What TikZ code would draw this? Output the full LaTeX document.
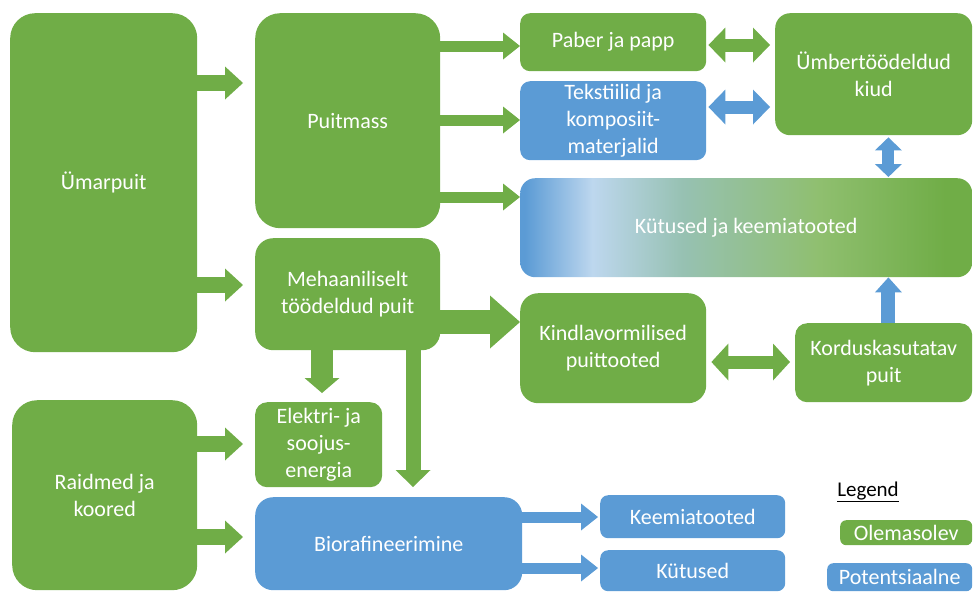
\documentclass[tikz,border=0pt]{standalone}
\usepackage{fontspec}
\setmainfont{Carlito}
\usetikzlibrary{arrows.meta,calc}
\definecolor{puugreen}{HTML}{70AD47}
\definecolor{puublue}{HTML}{5B9BD5}
\pgfdeclarehorizontalshading{kytusvarv}{100bp}{color(0bp)=(puublue); color(25.5bp)=(puublue); color(33bp)=(puublue!40!white); color(43bp)=(puublue!50!puugreen!68!white); color(58bp)=(puugreen!78!white); color(72bp)=(puugreen); color(100bp)=(puugreen)}
\begin{document}
\begin{tikzpicture}[x=1pt,y=-1pt,
  kast/.style={rounded corners=#1, inner sep=0pt, align=center, text=white, anchor=north west, font=\fontsize{22}{27}\selectfont},
  rohe/.style={kast=#1, fill=puugreen},
  sini/.style={kast=#1, fill=puublue},
  nool/.style n args={3}{line width=#1, -{Triangle[width=#2, length=#3, line width=0pt]}},
  kaksnool/.style n args={3}{line width=#1, {Triangle[width=#2, length=#3, line width=0pt]}-{Triangle[width=#2, length=#3, line width=0pt]}}]
\useasboundingbox (0,0) rectangle (973,592);
\node[rohe=25pt, minimum width=187pt, minimum height=339pt] (umar) at (10,13) {Ümarpuit};
\node[rohe=25pt, minimum width=185pt, minimum height=215pt] (puit) at (255,13) {Puitmass};
\node[rohe=18pt, minimum width=185pt, minimum height=112pt] (meh) at (255,238) {Mehaaniliselt\\töödeldud puit};
\node[rohe=10pt, minimum width=186pt, minimum height=58pt] (paber) at (520,13) {Paber ja papp};
\node[sini=10pt, minimum width=186pt, minimum height=79pt] (teks) at (520,81) {Tekstiilid ja\\komposiit-\\materjalid};
\node[rohe=15pt, minimum width=197pt, minimum height=122pt] (umb) at (775,13) {Ümbertöödeldud\\kiud};
\node[kast=15pt, shade, shading=kytusvarv, minimum width=452pt, minimum height=99pt] (kyt) at (520,178) {Kütused ja keemiatooted};
\node[rohe=18pt, minimum width=186pt, minimum height=110pt] (kindl) at (520,293) {Kindlavormilised\\puittooted};
\node[rohe=12pt, minimum width=177pt, minimum height=79pt] (kord) at (795,323) {Korduskasutatav\\puit};
\node[rohe=12pt, minimum width=127pt, minimum height=85pt] (elek) at (255,402) {Elektri- ja\\soojus-\\energia};
\node[rohe=25pt, minimum width=185pt, minimum height=190pt] (raid) at (12,400) {Raidmed ja\\koored};
\node[sini=18pt, minimum width=267pt, minimum height=93pt] (bio) at (255,497) {Biorafineerimine};
\node[sini=8pt, minimum width=185pt, minimum height=43pt] (keem) at (600,495) {Keemiatooted};
\node[sini=8pt, minimum width=185pt, minimum height=41pt] (kytsm) at (600,550) {Kütused};
\node[font=\fontsize{21}{25}\selectfont] (leg) at (868,492) {\underline{Legend}};
\node[rohe=6pt, minimum width=132pt, minimum height=25pt] (olem) at (840,520) {Olemasolev};
\node[sini=6pt, minimum width=145pt, minimum height=28pt] (pot) at (827,563) {Potentsiaalne};
\draw[puugreen, nool={16pt}{33pt}{18pt}, shorten >=12pt] ([yshift=-70pt]umar.north east) -- ([yshift=-70pt]puit.north west);
\draw[puugreen, nool={16pt}{33pt}{18pt}, shorten >=12pt] ([yshift=-272pt]umar.north east) -- ([yshift=-47pt]meh.north west);
\draw[puugreen, nool={11pt}{27pt}{17pt}] ([yshift=-33pt]puit.north east) -- ([yshift=-33pt]paber.north west);
\draw[puugreen, nool={11pt}{27pt}{17pt}] ([yshift=-107pt]puit.north east) -- ([yshift=-39pt]teks.north west);
\draw[puugreen, nool={11pt}{27pt}{17pt}] ([yshift=-184pt]puit.north east) -- ([yshift=-19pt]kyt.north west);
\draw[puugreen, kaksnool={13pt}{35pt}{17pt}] ([yshift=-32pt,xshift=2pt]paber.north east) -- ([yshift=-32pt,xshift=-5pt]umb.north west);
\draw[puublue, kaksnool={13pt}{35pt}{17pt}] ([yshift=-26pt,xshift=2pt]teks.north east) -- ([yshift=-94pt,xshift=-5pt]umb.north west);
\draw[puublue, kaksnool={12pt}{27pt}{13pt}, shorten <=2pt, shorten >=1pt] ([xshift=-84pt]umb.south east) -- ([xshift=-84pt]kyt.north east);
\draw[puublue, nool={14pt}{27pt}{15pt}] ([xshift=-84pt]kord.north east) -- ([xshift=-84pt]kyt.south east);
\draw[puugreen, nool={24pt}{53pt}{30pt}] ([yshift=-84pt]meh.north east) -- ([yshift=-29pt]kindl.north west);
\draw[puugreen, kaksnool={13pt}{37pt}{17pt}] ([yshift=-69pt,xshift=5pt]kindl.north east) -- ([yshift=-39pt,xshift=-5pt]kord.north west);
\draw[puugreen, nool={22pt}{35pt}{15pt}, shorten >=9pt] ([xshift=67pt]meh.south west) -- ([xshift=67pt]elek.north west);
\draw[puugreen, nool={15pt}{35pt}{17pt}, shorten >=10pt] ([xshift=158pt]meh.south west) -- ([xshift=158pt]bio.north west);
\draw[puugreen, nool={16pt}{33pt}{18pt}, shorten >=12pt] ([yshift=-44pt]raid.north east) -- ([yshift=-42pt]elek.north west);
\draw[puugreen, nool={16pt}{33pt}{18pt}, shorten >=12pt] ([yshift=-137pt]raid.north east) -- ([yshift=-40pt]bio.north west);
\draw[puublue, nool={11pt}{27pt}{17pt}, shorten >=2pt] ([yshift=-20pt]bio.north east) -- ([yshift=-22pt]keem.north west);
\draw[puublue, nool={11pt}{27pt}{17pt}, shorten >=2pt] ([yshift=-71pt]bio.north east) -- ([yshift=-18pt]kytsm.north west);
\end{tikzpicture}
\end{document}
